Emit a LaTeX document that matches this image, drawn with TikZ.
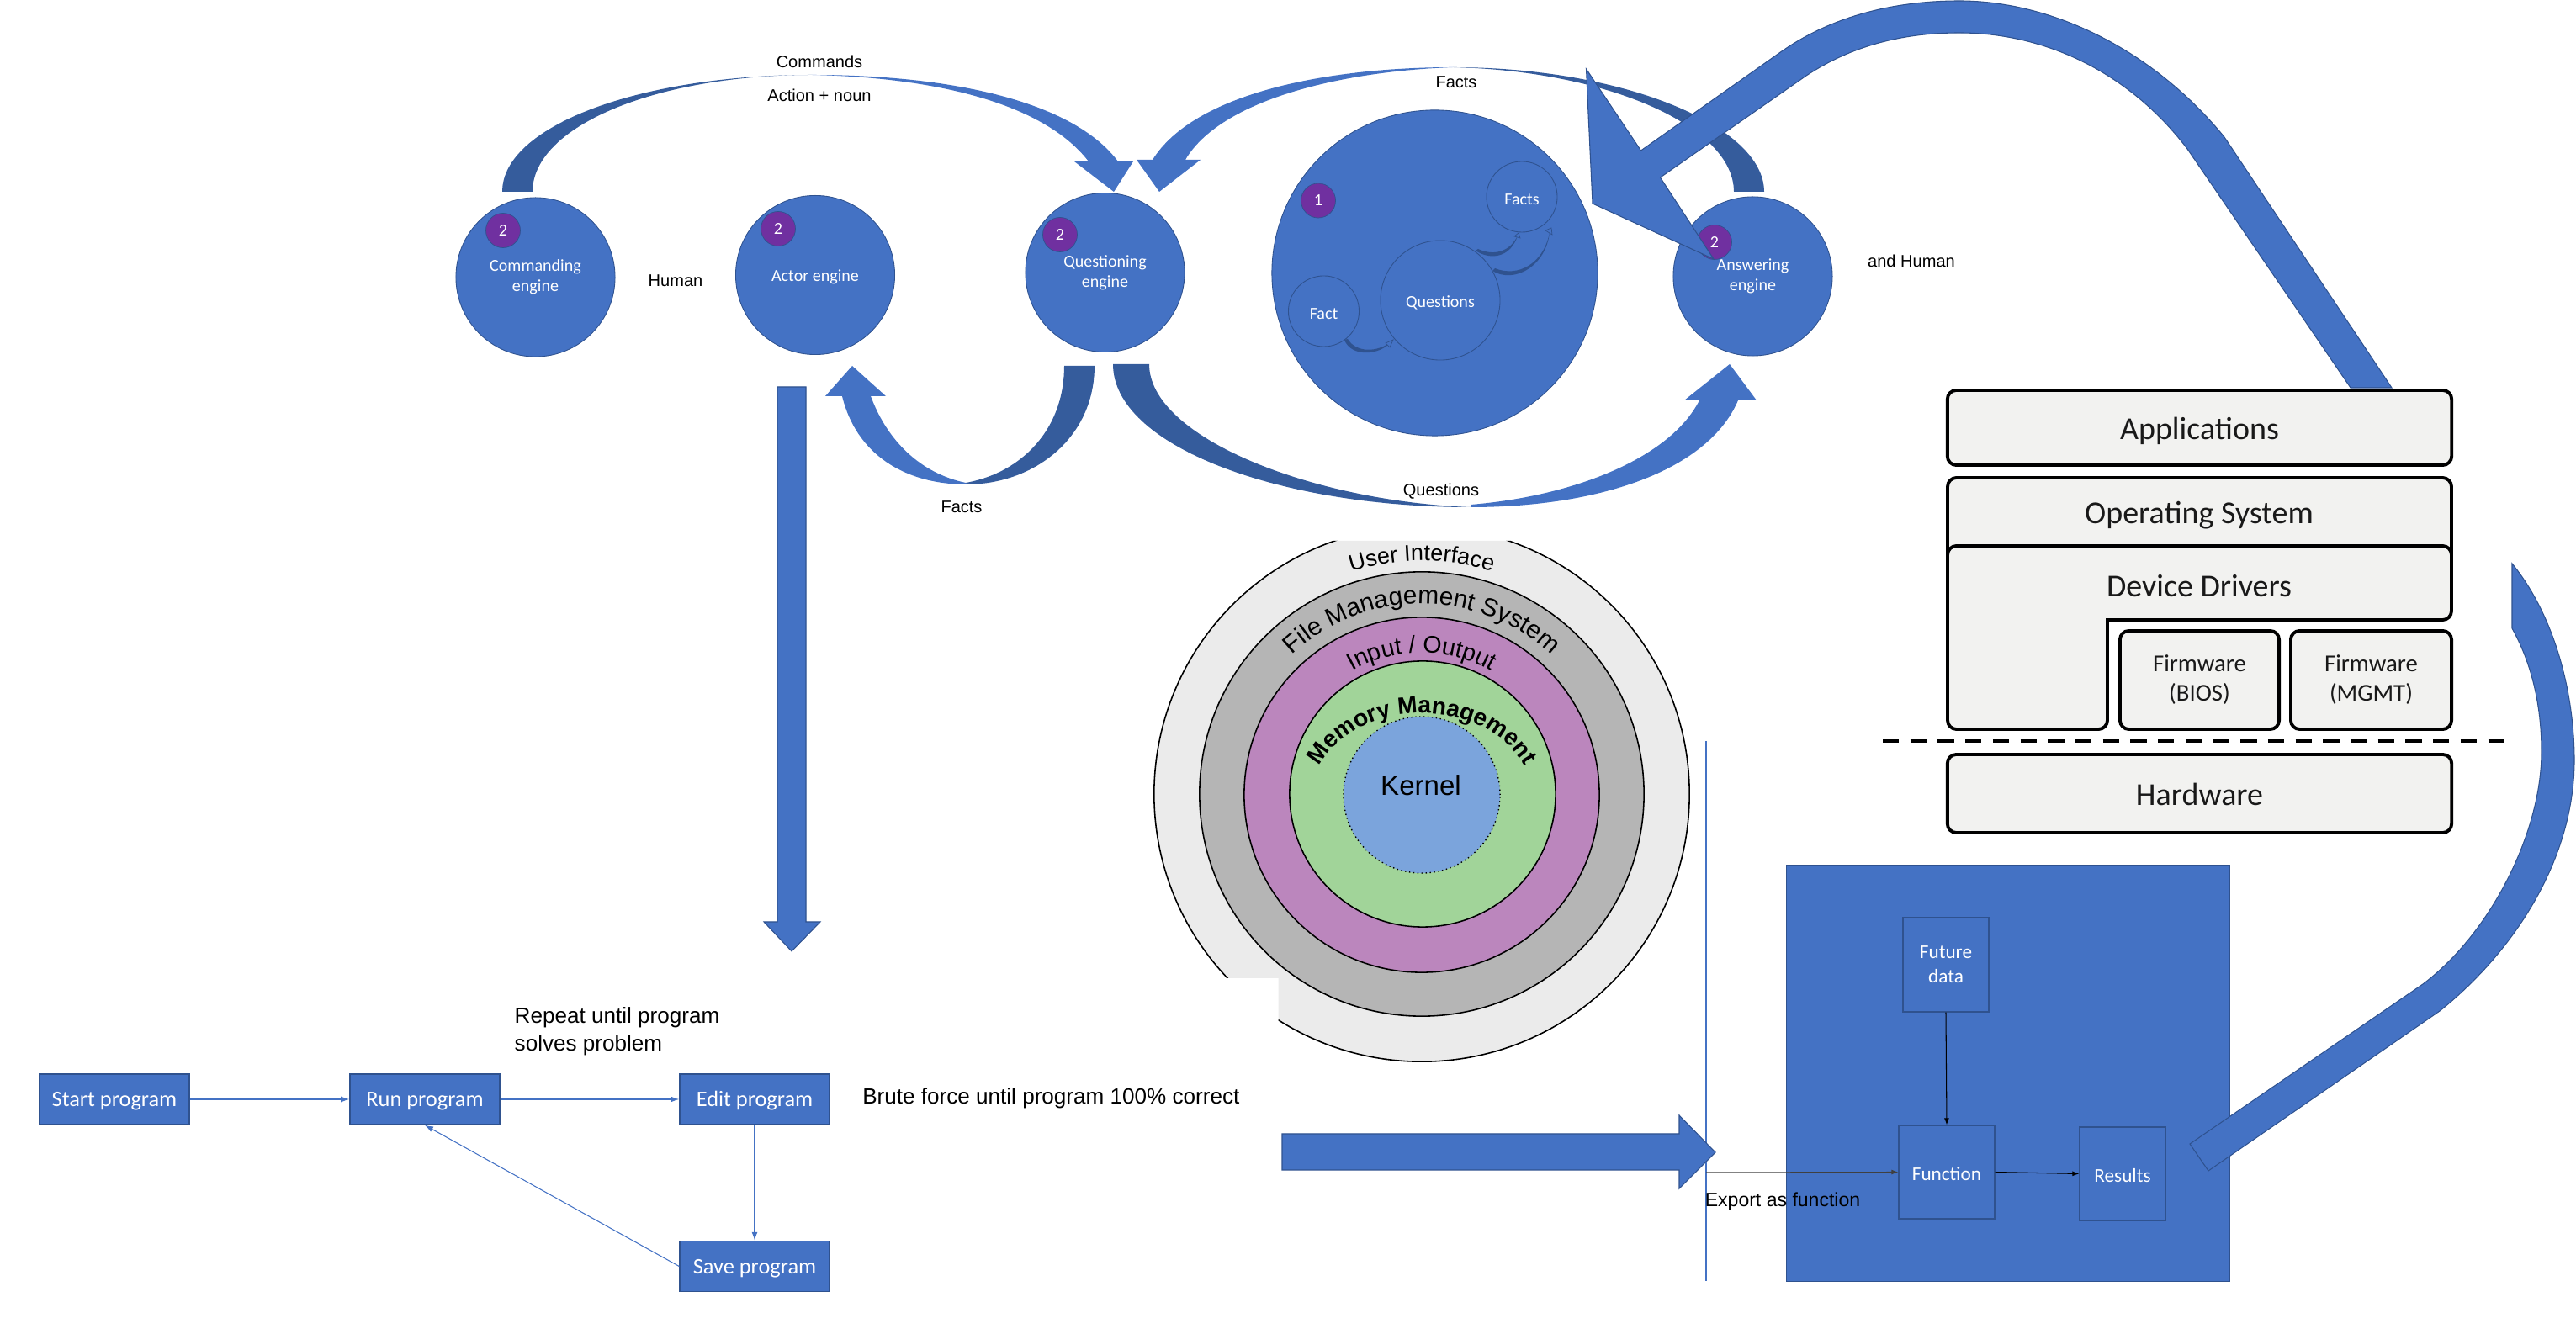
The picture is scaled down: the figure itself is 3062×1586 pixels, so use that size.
\documentclass[tikz,border=0pt]{standalone}
\usepackage{fontspec}
\setmainfont{Liberation Sans}
\newfontfamily\calfont{Carlito}
\usetikzlibrary{arrows.meta,decorations.text}
\definecolor{mso}{HTML}{4472C4}
\definecolor{msodark}{HTML}{2F528F}
\definecolor{msotail}{HTML}{355C9C}
\definecolor{badgep}{HTML}{7030A0}
\definecolor{boxfill}{HTML}{F2F2F0}
\definecolor{onA}{HTML}{EBEBEB}
\definecolor{onB}{HTML}{B5B5B5}
\definecolor{onC}{HTML}{BB86BD}
\definecolor{onD}{HTML}{A1D499}
\definecolor{onE}{HTML}{7BA4DC}
\newcommand{\arcA}{\fontsize{7.7}{9}\selectfont}
\newcommand{\arcB}{\fontsize{8.5}{10}\selectfont}
\newcommand{\arcC}{\fontsize{8.1}{10}\selectfont}
\newcommand{\arcD}{\fontsize{8}{10}\selectfont\bfseries}
\tikzset{
  engine/.style={circle,fill=mso,draw=msodark,line width=.25pt,minimum size=1.89cm,inner sep=0pt,text=white,align=center,font=\calfont\fontsize{5.7}{6.8}\selectfont,execute at begin node=\rule{0pt}{5.4pt}},
  inner engine/.style={engine,fill=none},
  badge/.style={circle,fill=badgep,draw=msodark,line width=.2pt,minimum size=.41cm,inner sep=0pt,text=white,font=\calfont\fontsize{5.7}{6.8}\selectfont},
  lbl/.style={inner sep=0pt,text=black,font=\fontsize{5.7}{6.8}\selectfont},
  bigl/.style={inner sep=0pt,text=black,align=left,font=\fontsize{7.42}{9.3}\selectfont},
  block/.style={fill=mso,draw=msodark,line width=.3pt},
  tailpart/.style={fill=msotail},
  headpart/.style={fill=mso},
  flowbox/.style={rectangle,fill=mso,draw=msodark,line width=.4pt,minimum width=1.78cm,minimum height=.6cm,inner sep=0pt,text=white,text height=6.2pt,text depth=1.1pt,font=\calfont\fontsize{7.5}{9}\selectfont},
  fnbox/.style={rectangle,fill=mso,draw=msodark,line width=.35pt,inner sep=0pt,text=white,align=center,font=\calfont\fontsize{6.6}{8.2}\selectfont,execute at begin node=\rule{0pt}{5.8pt}},
  flowline/.style={draw=mso,line width=.3pt,-{Latex[length=.1cm,width=.07cm]}},
  fnline/.style={draw=black,line width=.3pt,-{Latex[length=.08cm,width=.06cm]}},
  osbox/.style={rectangle,rounded corners=3pt,fill=boxfill,draw=black,line width=1.1pt,inner sep=0pt,align=center,text=black!90,font=\calfont\fontsize{10.8}{12}\selectfont},
  fwbox/.style={osbox,font=\calfont\fontsize{8.2}{10}\selectfont,execute at begin node=\rule{0pt}{7pt}},
  single/.style={text height=9.6pt,text depth=1.6pt},
  ostext/.style={inner sep=0pt,text=black!90,font=\calfont\fontsize{10.8}{12}\selectfont,single},
  ring/.style={draw=black,line width=.45pt},
  mini/.style={fill=msodark},
  minihead/.style={fill=mso,draw=msodark,line width=.2pt},
}
\begin{document}
\begin{tikzpicture}[x=.01cm,y=.01cm]
\useasboundingbox (0,0) rectangle (3062,-1586);

% onion diagram, cropped at its top and lower left
\begin{scope}
\clip (1360,-643) -- (2020,-643) -- (2020,-1275) -- (1519.5,-1275) -- (1519.5,-1163) -- (1360,-1163) -- cycle;
\filldraw[ring,fill=onA] (1690,-944) circle[radius=3.18cm];
\filldraw[ring,fill=onB] (1690,-944) circle[radius=2.64cm];
\filldraw[ring,fill=onC] (1690,-945) circle[radius=2.11cm];
\filldraw[ring,fill=onD] (1691,-944) circle[radius=1.58cm];
\filldraw[draw=black,densely dotted,line width=.4pt,fill=onE] (1690,-945) circle[radius=.93cm];
\end{scope}
\path[decorate,decoration={text along path,text={|\arcA|User Interface},text align=center}]
  (1690,-944) ++(170:2.77cm) arc[start angle=170,end angle=10,radius=2.77cm];
\path[decorate,decoration={text along path,text={|\arcB|File Management System},text align=center}]
  (1690,-944) ++(170:2.26cm) arc[start angle=170,end angle=10,radius=2.26cm];
\path[decorate,decoration={text along path,text={|\arcC|Input / Output},text align=center}]
  (1690,-944) ++(170:1.68cm) arc[start angle=170,end angle=10,radius=1.68cm];
\path[decorate,decoration={text along path,text={|\arcD|Memory Management},text align=center}]
  (1558,-950) arc[start angle=180,end angle=0,x radius=1.32cm,y radius=1.02cm];
\node[inner sep=0pt,text=black,font=\fontsize{9.4}{11}\selectfont] (kernel) at (1689,-934) {Kernel};

% engines
\node[engine] (cmd) at (636.5,-329.5) {Commanding\\engine};
\node[engine] (act) at (969,-327) {Actor engine};
\node[engine] (que) at (1313.5,-324) {Questioning\\engine};
\node[engine] (ans) at (2083.5,-328.5) {Answering\\engine};
\node[badge] (b1) at (598,-274) {2};
\node[badge] (b2) at (925,-272) {2};
\node[badge] (b3) at (1260,-279) {2};
\node[badge] (b4) at (2038,-288) {};

% world circle
\node[engine,minimum size=3.87cm] (world) at (1705.5,-324.5) {};
\node[badge] (b5) at (1567,-238.5) {1};
\node[inner engine,minimum size=.84cm] (wfacts) at (1809,-234) {Facts};
\node[inner engine,minimum size=1.42cm] (wques) at (1712,-357) {Questions};
\node[inner engine,minimum size=.84cm] (wfact) at (1573.5,-370) {Fact};
\fill[mini] (1598,-404) .. controls (1606,-425) and (1640,-423) .. (1654,-406) .. controls (1638,-419) and (1612,-420) .. (1602,-403) -- cycle;
\filldraw[minihead] (1647,-408) -- (1656,-404) -- (1652,-413) -- cycle;
\fill[mini] (1754,-298) .. controls (1772,-310) and (1796,-306) .. (1804,-280) .. controls (1794,-301) and (1774,-304) .. (1757,-296) -- cycle;
\filldraw[minihead] (1800,-281) -- (1805,-277) -- (1807,-283) -- cycle;
\fill[mini] (1774,-322) .. controls (1800,-338) and (1838,-316) .. (1842,-276) .. controls (1835,-314) and (1804,-330) .. (1777,-319) -- cycle;
\filldraw[minihead] (1837,-274) -- (1844,-271) -- (1845,-279) -- cycle;

% free labels
\node[lbl] (lcmd) at (974,-73) {Commands};
\node[lbl] (lact) at (974,-113) {Action + noun};
\node[lbl] (lhum) at (803,-334) {Human};
\node[lbl] (lf1) at (1731,-98) {Facts};
\node[lbl] (lf2) at (1143,-603) {Facts};
\node[lbl] (lq) at (1713,-584) {Questions};
\node[lbl] (land) at (2272,-310) {and Human};

% curved block arrows
\fill[tailpart] (597,-228) .. controls (597,-150) and (760,-89) .. (965,-89) .. controls (780,-89) and (633,-150) .. (633,-228) -- cycle;
\fill[headpart] (965,-89) .. controls (1130,-89) and (1275,-120) .. (1329,-192) -- (1347,-192) -- (1324,-228) -- (1277,-192) -- (1294,-192) .. controls (1240,-122) and (1110,-92) .. (965,-89) -- cycle;

\fill[tailpart] (2097,-228) .. controls (2097,-150) and (1930,-80) .. (1727,-80) .. controls (1910,-84) and (2061,-150) .. (2061,-228) -- cycle;
\fill[headpart] (1727,-80) .. controls (1580,-80) and (1420,-110) .. (1370,-190) -- (1351,-190) -- (1378,-228) -- (1427,-190) -- (1409,-190) .. controls (1450,-120) and (1590,-85) .. (1727,-80) -- cycle;

\fill[tailpart] (1301,-435) .. controls (1301,-520) and (1230,-576) .. (1148,-576) -- (1148,-574) .. controls (1215,-562) and (1265,-510) .. (1265,-435) -- cycle;
\fill[headpart] (1150,-576) .. controls (1075,-576) and (1018,-540) .. (1001,-471) -- (981,-471) -- (1013,-435) -- (1053,-471) -- (1035,-471) .. controls (1055,-525) and (1095,-563) .. (1148,-574) -- cycle;

\fill[tailpart] (1323,-433) .. controls (1323,-530) and (1520,-603) .. (1748,-603) .. controls (1560,-596) and (1366,-520) .. (1366,-433) -- cycle;
\fill[headpart] (1748,-603) .. controls (1900,-603) and (2030,-560) .. (2066,-476) -- (2088,-476) -- (2056,-433) -- (2002,-476) -- (2020,-476) .. controls (1985,-545) and (1870,-590) .. (1748,-600) -- cycle;

% big arrow into the answering engine
\filldraw[block] (1885.5,-82) -- (1950.5,-179) -- (2115,-63)
  .. controls (2175,-20) and (2250,-1) .. (2329,-1)
  .. controls (2440,-1) and (2560,-60) .. (2644,-163)
  -- (2843,-461) -- (2794,-461) -- (2600,-177)
  .. controls (2530,-85) and (2430,-39) .. (2329,-39)
  .. controls (2260,-39) and (2200,-55) .. (2147,-90)
  -- (1973.5,-211) -- (2037,-308) -- (1893,-242) -- cycle;
\node[inner sep=0pt,text=white,font=\calfont\fontsize{5.7}{6.8}\selectfont] (b4t) at (b4) {2};

% long down arrow
\filldraw[block] (924,-460) -- (958,-460) -- (958,-1096) -- (975,-1096) -- (941,-1131) -- (908,-1096) -- (924,-1096) -- cycle;

% OS stack
\node[osbox,single,minimum width=5.99cm,minimum height=.89cm] (apps) at (2614.5,-508.5) {Applications};
\filldraw[rounded corners=3pt,fill=boxfill,draw=black,line width=1.1pt] (2315,-668) -- (2315,-568) -- (2914,-568) -- (2914,-668);
\node[ostext] (ostxt) at (2614,-608) {Operating System};
\filldraw[fill=boxfill,draw=black,line width=1.1pt,rounded corners=3pt] (2315,-700) -- (2315,-649) -- (2914,-649) -- (2914,-737) [sharp corners] -- (2505,-737) [rounded corners=3pt] -- (2505,-867) -- (2315,-867) -- cycle;
\node[ostext] (ddtxt) at (2614,-695) {Device Drivers};
\node[fwbox,minimum width=1.89cm,minimum height=1.17cm] (fwb) at (2614.5,-808.5) {Firmware\\(BIOS)};
\node[fwbox,minimum width=1.91cm,minimum height=1.17cm] (fwm) at (2818.5,-808.5) {Firmware\\(MGMT)};
\node[osbox,single,minimum width=5.99cm,minimum height=.93cm] (hw) at (2614.5,-943.5) {Hardware};
\coordinate (dashL) at (2238,-881);
\coordinate (dashR) at (2976,-881);
\draw[black,line width=1.2pt,dash pattern=on 5.5pt off 3.8pt] (dashL) -- (dashR);

% function block
\node[fill=mso,draw=msodark,line width=.2pt,minimum width=5.27cm,minimum height=4.94cm,inner sep=0pt] (fnbg) at (2386.5,-1276) {};
\node[fnbox,minimum width=1.02cm,minimum height=1.12cm] (future) at (2313,-1147) {Future\\data};
\node[fnbox,minimum width=1.14cm,minimum height=1.11cm] (func) at (2314,-1393.5) {Function};
\node[fnbox,minimum width=1.02cm,minimum height=1.11cm] (res) at (2523,-1395.5) {Results};
\draw[fnline] (future.south) -- (func.north);
\draw[fnline] (func.east) -- (res.west);
\coordinate (vtop) at (2028,-881);
\coordinate (vbot) at (2028,-1523);
\draw[mso,line width=.35pt] (vtop) -- (vbot);
\coordinate (expin) at (2028,-1394);
\draw[fnline,draw=black!75] (expin) -- (func.west);
\node[lbl,font=\fontsize{6.55}{8}\selectfont] (lexp) at (2119,-1429) {Export as function};

% big right arrow
\filldraw[block] (1524,-1348) -- (1996,-1348) -- (1996,-1326) -- (2039,-1370) -- (1996,-1413) -- (1996,-1391) -- (1524,-1391) -- cycle;

% arrow leaving Results, cropped by the OS picture
\filldraw[block] (2986,-670)
  .. controls (3035,-730) and (3060,-820) .. (3060,-904)
  .. controls (3060,-1020) and (2990,-1130) .. (2900,-1202)
  -- (2625,-1392) -- (2603,-1360) -- (2880,-1170)
  .. controls (2960,-1110) and (3021,-990) .. (3021,-894)
  .. controls (3021,-840) and (3010,-790) .. (2986,-747)
  -- cycle;

% program flow
\node[flowbox] (start) at (136,-1307) {Start program};
\node[flowbox] (run) at (505,-1307) {Run program};
\node[flowbox] (edit) at (897,-1307) {Edit program};
\node[flowbox] (save) at (897,-1505.5) {Save program};
\draw[flowline] (start) -- (run);
\draw[flowline] (run) -- (edit);
\draw[flowline] (edit) -- (save);
\draw[flowline] (save.west) -- (run.south);
\node[bigl,anchor=west] (lrep) at (611,-1226) {Repeat until program\\solves problem};
\node[bigl,anchor=west] (lbru) at (1024.6,-1306) {Brute force until program 100\% correct};
\end{tikzpicture}
\end{document}
